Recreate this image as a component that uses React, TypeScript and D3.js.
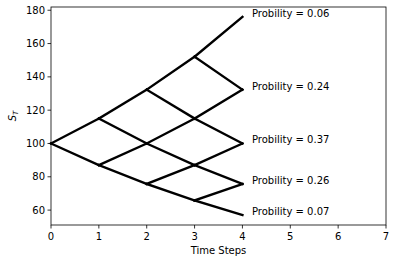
import React from "react";
import * as d3 from "d3";

const steps = [0, 1, 2, 3, 4];
const nodeValues: number[][] = [
  [100],
  [115, 87],
  [132.3, 100, 75.7],
  [152.1, 115, 87, 65.8],
  [176, 132.3, 100, 75.7, 57],
];
const finalProbs = ["0.06", "0.24", "0.37", "0.26", "0.07"];
const xTicks = [0, 1, 2, 3, 4, 5, 6, 7];
const yTicks = [60, 80, 100, 120, 140, 160, 180];

const W = 396;
const H = 263;
const M = { left: 51, right: 10, top: 7, bottom: 38 };

export default function App() {
  const all = nodeValues.flat();
  const mn = d3.min(all)!;
  const mx = d3.max(all)!;
  const pad = (mx - mn) * 0.05;
  const x = d3.scaleLinear().domain([0, 7]).range([M.left, W - M.right]);
  const y = d3.scaleLinear().domain([mn - pad, mx + pad]).range([H - M.bottom, M.top]);

  const edges: { x1: number; y1: number; x2: number; y2: number }[] = [];
  steps.slice(0, -1).forEach((t) => {
    nodeValues[t].forEach((v, i) => {
      [i, i + 1].forEach((j) => {
        edges.push({ x1: t, y1: v, x2: t + 1, y2: nodeValues[t + 1][j] });
      });
    });
  });

  const font = "DejaVu Sans, sans-serif";
  const last = steps[steps.length - 1];
  return (
    <svg width={W} height={H} style={{ position: "absolute", left: 0, top: 0, background: "#fff" }}>
      {edges.map((e, k) => (
        <line key={k} x1={x(e.x1)} y1={y(e.y1)} x2={x(e.x2)} y2={y(e.y2)} stroke="#000" strokeWidth={2.4} strokeLinecap="square" />
      ))}
      {nodeValues[last].map((v, i) => (
        <text key={i} x={x(last + 0.2)} y={y(v)} fontSize={10} fontFamily={font} fill="#000">
          {`Probility = ${finalProbs[i]}`}
        </text>
      ))}
      <rect x={M.left} y={M.top} width={W - M.right - M.left} height={H - M.bottom - M.top} fill="none" stroke="#000" strokeWidth={0.8} />
      {xTicks.map((t) => (
        <g key={t}>
          <line x1={x(t)} x2={x(t)} y1={H - M.bottom} y2={H - M.bottom + 3.5} stroke="#000" strokeWidth={0.8} />
          <text x={x(t)} y={H - M.bottom + 15} textAnchor="middle" fontSize={10} fontFamily={font} fill="#000">{t}</text>
        </g>
      ))}
      {yTicks.map((t) => (
        <g key={t}>
          <line x1={M.left - 3.5} x2={M.left} y1={y(t)} y2={y(t)} stroke="#000" strokeWidth={0.8} />
          <text x={M.left - 6} y={y(t)} dy="0.35em" textAnchor="end" fontSize={10} fontFamily={font} fill="#000">{t}</text>
        </g>
      ))}
      <text x={(M.left + W - M.right) / 2} y={H - 9} textAnchor="middle" fontSize={10} fontFamily={font} fill="#000">Time Steps</text>
      <text transform={`translate(16,${(M.top + H - M.bottom) / 2}) rotate(-90)`} textAnchor="middle" fontSize={10} fontFamily={font} fontStyle="italic" fill="#000">
        S<tspan fontSize={7} dy="2">T</tspan>
      </text>
    </svg>
  );
}
